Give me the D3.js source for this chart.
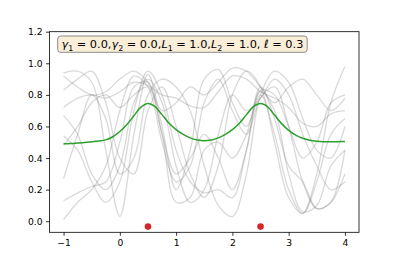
<!DOCTYPE html>
<html><head><meta charset="utf-8">
<script src="https://cdn.jsdelivr.net/npm/d3@7"></script>
<style>body{margin:0;background:#fff}svg{display:block}</style>
</head><body>
<svg id="chart" width="399" height="266"></svg>
<script>
const xGrid = [-1,-0.75,-0.5,-0.25,0,0.25,0.5,0.75,1,1.25,1.5,1.75,2,2.25,2.5,2.75,3,3.25,3.5,3.75,4];
const meanX = [-1,-0.875,-0.75,-0.625,-0.5,-0.375,-0.25,-0.125,0,0.125,0.25,0.375,0.5,0.625,0.75,0.875,1,1.125,1.25,1.375,1.5,1.625,1.75,1.875,2,2.125,2.25,2.375,2.5,2.625,2.75,2.875,3,3.125,3.25,3.375,3.5,3.625,3.75,3.875,4];
const meanValues = [0.49,0.492,0.495,0.498,0.503,0.508,0.515,0.535,0.568,0.612,0.668,0.722,0.745,0.725,0.675,0.62,0.58,0.55,0.528,0.515,0.51,0.515,0.528,0.55,0.58,0.62,0.675,0.725,0.745,0.725,0.672,0.618,0.575,0.545,0.525,0.513,0.507,0.504,0.503,0.504,0.505];
const samples = [
  [0.94,0.95,0.88,0.45,0.03,0.55,0.93,0.60,0.20,0.45,0.90,0.96,0.75,0.60,0.80,0.55,0.20,0.05,0.30,0.75,0.98],
  [0.92,0.85,0.80,0.82,0.90,0.95,0.88,0.70,0.75,0.85,0.80,0.88,0.97,0.95,0.85,0.75,0.85,0.90,0.80,0.70,0.78],
  [0.83,0.90,0.95,0.75,0.40,0.30,0.70,0.85,0.60,0.30,0.15,0.35,0.80,0.95,0.85,0.50,0.15,0.05,0.25,0.55,0.65],
  [0.72,0.78,0.80,0.78,0.82,0.88,0.86,0.80,0.78,0.73,0.72,0.82,0.92,0.90,0.82,0.78,0.72,0.62,0.60,0.68,0.70],
  [0.67,0.55,0.30,0.20,0.35,0.75,0.90,0.75,0.35,0.12,0.20,0.55,0.80,0.70,0.78,0.90,0.80,0.55,0.35,0.20,0.25],
  [0.54,0.45,0.25,0.12,0.25,0.70,0.95,0.80,0.45,0.25,0.18,0.20,0.15,0.45,0.82,0.70,0.30,0.06,0.10,0.35,0.45],
  [0.48,0.60,0.75,0.80,0.72,0.80,0.85,0.55,0.12,0.15,0.45,0.50,0.40,0.55,0.85,0.65,0.35,0.25,0.08,0.12,0.45],
  [0.27,0.55,0.80,0.65,0.30,0.40,0.80,0.90,0.85,0.70,0.35,0.10,0.03,0.30,0.80,0.95,0.88,0.65,0.45,0.40,0.60],
  [0.13,0.18,0.22,0.25,0.50,0.85,0.88,0.55,0.30,0.40,0.55,0.40,0.20,0.45,0.83,0.80,0.60,0.40,0.50,0.75,0.80],
  [0.01,0.12,0.20,0.35,0.70,0.92,0.85,0.50,0.25,0.35,0.75,0.90,0.70,0.55,0.78,0.85,0.60,0.25,0.08,0.12,0.30]
];
const obsX = [0.5, 2.5];
const obsY = [-0.034, -0.034];
const xTicks = [-1,0,1,2,3,4];
const yTicks = [0,0.2,0.4,0.6,0.8,1.0,1.2];

const svg = d3.select("#chart");
const L = 49.5, R = 359, T = 31.7, B = 232.3;
const x = d3.scaleLinear().domain([-1.25, 4.25]).range([L, R]);
const y = d3.scaleLinear().domain([-0.07, 1.2]).range([B, T]);

const line = d3.line().x((d,i)=>x(xGrid[i])).y(d=>y(d)).curve(d3.curveCatmullRom.alpha(0.5));
const meanLine = d3.line().x((d,i)=>x(meanX[i])).y(d=>y(d)).curve(d3.curveCatmullRom.alpha(0.5));

svg.append("g").selectAll("path").data(samples).join("path")
  .attr("d", line).attr("fill","none")
  .attr("stroke","rgba(128,128,128,0.3)").attr("stroke-width",1.3);

svg.append("path").attr("d", meanLine(meanValues)).attr("fill","none")
  .attr("stroke","#2ca02c").attr("stroke-width",1.5);

svg.append("g").selectAll("circle").data(obsX).join("circle")
  .attr("cx", d=>x(d)).attr("cy",(d,i)=>y(obsY[i])).attr("r",3.3).attr("fill","#d62728");

const fs = 9.2;
const gx = svg.append("g").attr("transform",`translate(0,${B})`)
  .call(d3.axisBottom(x).tickValues(xTicks).tickSize(3.5).tickPadding(3.5).tickFormat(d=>d<0?"\u2212"+Math.abs(d):String(d)));
const gy = svg.append("g").attr("transform",`translate(${L},0)`)
  .call(d3.axisLeft(y).tickValues(yTicks).tickSize(3.5).tickPadding(3.5).tickFormat(d3.format(".1f")));
[gx,gy].forEach(g=>{
  g.select(".domain").remove();
  g.selectAll(".tick line").attr("stroke","#000").attr("stroke-width",0.8);
  g.selectAll(".tick text").attr("fill","#000").style("font-family","DejaVu Sans").style("font-size",fs+"px");
});
svg.append("rect").attr("x",L).attr("y",T).attr("width",R-L).attr("height",B-T)
  .attr("fill","none").attr("stroke","#000").attr("stroke-width",0.8);

// annotation box
svg.append("rect").attr("x",57.7).attr("y",36).attr("width",249.5).attr("height",16.3)
  .attr("rx",3).attr("fill","#faeed9").attr("stroke","#7f7f7f").attr("stroke-width",0.9);
const txt = svg.append("text").attr("x",61.5).attr("y",48.3)
  .style("font-family","DejaVu Sans").style("font-size","11.5px").attr("fill","#000");
const parts = [
  ["γ","i"],["1","s"],[" = 0.0,","n"],["γ","i"],["2","s"],[" = 0.0,","n"],
  ["L","i"],["1","s"],[" = 1.0,","n"],["L","i"],["2","s"],[" = 1.0, ","n"],["ℓ","i"],[" = 0.3","n"]
];
let shifted = false;
parts.forEach(([t,k])=>{
  const ts = txt.append("tspan").text(t);
  if (k==="i") ts.style("font-style","italic");
  if (k==="s") { ts.style("font-size","0.7em").attr("dy","2.6"); shifted = true; }
  else if (shifted) { ts.attr("dy","-2.6"); shifted = false; }
});
const w = txt.node().getComputedTextLength();
const target = 242;
txt.style("font-size", (11.5*target/w).toFixed(2)+"px");
</script>
</body></html>
